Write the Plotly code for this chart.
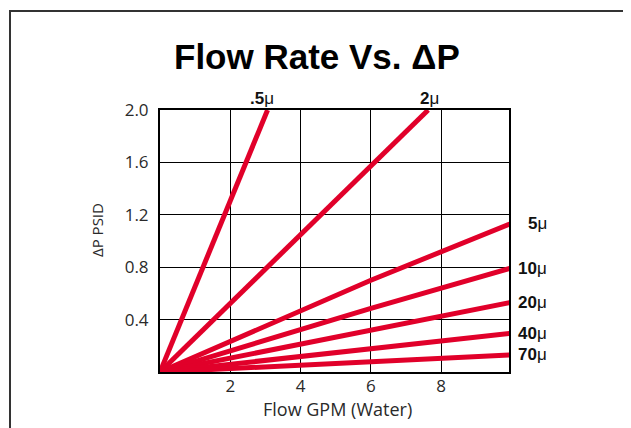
import plotly.graph_objects as go

# Data (flow GPM, delta-P PSID)
series_names = [".5", "2", "5", "10", "20", "40", "70"]
flow_x = [
    [0, 3.06],
    [0, 7.63],
    [0, 4.0, 6.0, 9.95],
    [0, 6.0, 9.95],
    [0, 9.95],
    [0, 9.95],
    [0, 9.95],
]
dp_y = [
    [0, 2.0],
    [0, 2.0],
    [0, 0.465, 0.70, 1.13],
    [0, 0.485, 0.79],
    [0, 0.53],
    [0, 0.295],
    [0, 0.13],
]
x_ticks = [2, 4, 6, 8]
y_ticks = [0.4, 0.8, 1.2, 1.6, 2.0]
y_tick_labels = ["0.4", "0.8", "1.2", "1.6", "2.0"]

RED = "#E1002A"
TXT = "#2a2a2a"
LABEL_FONT = "Open Sans"

# page offset of the figure inside the browser page (body margin)
OFF = 8
PL, PR, PT, PB = 160, 509, 110, 372   # plot area in page pixels
PW, PH = PR - PL, PB - PT


def px(x):
    return (x - PL) / PW


def py(y):
    return (PB - y) / PH


fig = go.Figure()
for name, xs, ys in zip(series_names, flow_x, dp_y):
    fig.add_trace(go.Scatter(x=xs, y=ys, mode="lines", name=name + "μ",
                             line=dict(color=RED, width=5), showlegend=False,
                             hoverinfo="skip"))

# series labels
for name, xs, ys in zip(series_names, flow_x, dp_y):
    txt = "<b>" + name + "</b>μ"
    if ys[-1] >= 2.0:
        fig.add_annotation(x=xs[-1], y=ys[-1], xref="x", yref="y", text=txt,
                           showarrow=False, xanchor="center", yanchor="middle",
                           xshift=-6 if name == ".5" else 1, yshift=12,
                           font=dict(family="Liberation Sans", size=17, color="#111"))
    else:
        fig.add_annotation(x=1, y=ys[-1], xref="paper", yref="y", text=txt,
                           showarrow=False, xanchor="right", yanchor="middle",
                           xshift=40, yshift=0,
                           font=dict(family="Liberation Sans", size=17, color="#111"))

# title
fig.add_annotation(x=px(316.5), y=py(56.5), xref="paper", yref="paper",
                   text="<b>Flow Rate Vs. ΔP</b>", showarrow=False,
                   xanchor="center", yanchor="middle",
                   font=dict(family="Liberation Sans", size=35, color="#000"))
# axis titles
fig.add_annotation(x=px(337), y=py(409), xref="paper", yref="paper",
                   text="Flow GPM (Water)", showarrow=False,
                   xanchor="center", yanchor="middle",
                   font=dict(family=LABEL_FONT, size=18, color=TXT))
fig.add_annotation(x=px(97), y=py(230), xref="paper", yref="paper",
                   text="ΔP PSID", showarrow=False, textangle=-90,
                   xanchor="center", yanchor="middle",
                   font=dict(family="Liberation Sans Narrow, Open Sans", size=15, color=TXT))

# outer frame (left edge kept inside the figure area)
fig.add_shape(type="rect", xref="paper", yref="paper",
              x0=px(OFF + 2), x1=px(680), y0=py(480), y1=py(11),
              line=dict(color="#333", width=2), fillcolor="rgba(0,0,0,0)", layer="below")

fig.update_xaxes(range=[0, 9.93], tickvals=x_ticks, showgrid=True, gridcolor="#000",
                 gridwidth=1, showline=True, mirror=True, linecolor="#000", linewidth=2,
                 zeroline=False, ticks="", ticklabelstandoff=-2,
                 tickfont=dict(family=LABEL_FONT, size=17, color=TXT))
fig.update_yaxes(range=[0, 2.0], tickvals=y_ticks, ticktext=y_tick_labels, showgrid=True,
                 gridcolor="#000", gridwidth=1, showline=True, mirror=True, linecolor="#000",
                 linewidth=2, zeroline=False, ticks="", ticklabelstandoff=6,
                 tickfont=dict(family=LABEL_FONT, size=17, color=TXT))

fig.update_layout(width=631, height=428,
                  margin=dict(l=PL - OFF, r=631 - (PR - OFF), t=PT - OFF, b=428 - (PB - OFF)),
                  paper_bgcolor="white", plot_bgcolor="white")

fig.write_html("out.html")
